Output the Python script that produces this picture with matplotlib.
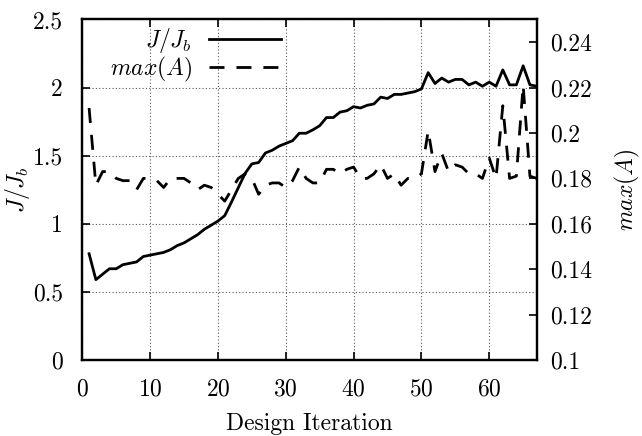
import matplotlib
matplotlib.use("Agg")
import matplotlib.pyplot as plt

plt.rcParams['font.family'] = ['cmr10', 'DejaVu Serif']
plt.rcParams['mathtext.fontset'] = 'cm'
plt.rcParams['axes.formatter.use_mathtext'] = True

iterations = list(range(1, 68))
j_ratio = [0.78, 0.59, 0.63, 0.67, 0.67, 0.70, 0.71, 0.72, 0.76, 0.77,
           0.78, 0.79, 0.81, 0.84, 0.86, 0.89, 0.92, 0.96, 0.99, 1.02,
           1.06, 1.16, 1.265, 1.37, 1.44, 1.45, 1.52, 1.54, 1.57, 1.59,
           1.61, 1.665, 1.665, 1.69, 1.72, 1.78, 1.78, 1.82, 1.83, 1.86,
           1.85, 1.87, 1.88, 1.93, 1.92, 1.95, 1.95, 1.96, 1.97, 1.99,
           2.11, 2.03, 2.07, 2.04, 2.06, 2.06, 2.02, 2.04, 2.01, 2.04,
           2.01, 2.13, 2.02, 2.02, 2.16, 2.02, 2.01]
max_a = [0.211, 0.177, 0.183, 0.183, 0.180, 0.179, 0.179, 0.175, 0.180, 0.180,
         0.179, 0.176, 0.180, 0.180, 0.180, 0.178, 0.175, 0.177, 0.176, 0.173,
         0.170, 0.175, 0.180, 0.182, 0.180, 0.173, 0.177, 0.178, 0.178, 0.176,
         0.179, 0.185, 0.180, 0.178, 0.178, 0.184, 0.184, 0.182, 0.184, 0.185,
         0.180, 0.180, 0.182, 0.186, 0.180, 0.182, 0.177, 0.180, 0.180, 0.182,
         0.201, 0.183, 0.191, 0.183, 0.186, 0.185, 0.182, 0.182, 0.180, 0.189,
         0.180, 0.212, 0.180, 0.181, 0.221, 0.181, 0.180]

x_ticks = [0, 10, 20, 30, 40, 50, 60]
y_ticks = [0, 0.5, 1, 1.5, 2, 2.5]
y_tick_labels = ['0', '0.5', '1', '1.5', '2', '2.5']
y2_ticks = [0.1, 0.12, 0.14, 0.16, 0.18, 0.2, 0.22, 0.24]
y2_tick_labels = ['0.1', '0.12', '0.14', '0.16', '0.18', '0.2', '0.22', '0.24']

FS = 17
fig = plt.figure(figsize=(6.42, 4.36), dpi=100)
ax = fig.add_axes([0.1282, 0.1743, 0.7078, 0.7810])
ax2 = ax.twinx()

l1, = ax.plot(iterations, j_ratio, color='black', lw=2.0, label=r'$J/J_b$')
l2, = ax2.plot(iterations, max_a, color='black', lw=2.0,
               linestyle=(0, (5.4, 4.3)), label=r'$max(A)$')

ax.set_xlim(0, 67)
ax.set_ylim(0, 2.5)
ax2.set_ylim(0.1, 0.25)

ax.set_xticks(x_ticks)
ax.set_yticks(y_ticks)
ax.set_yticklabels(y_tick_labels)
ax2.set_yticks(y2_ticks)
ax2.set_yticklabels(y2_tick_labels)

ax.tick_params(axis='x', direction='in', top=True, length=6, width=1.2,
               labelsize=FS, pad=13)
ax.tick_params(axis='y', direction='in', right=False, length=6, width=1.2,
               labelsize=FS, pad=14)
ax2.tick_params(axis='y', direction='in', length=6, width=1.2,
                labelsize=FS, pad=10)

ax.grid(True, linestyle=(0, (1, 2)), color='#555555', lw=0.8)

for a in (ax, ax2):
    for s in a.spines.values():
        s.set_linewidth(1.6)

ax.set_xlabel('Design Iteration', fontsize=FS, labelpad=9)
ax.set_ylabel(r'$J/J_b$', fontsize=FS)
ax.yaxis.set_label_coords(-0.111, 0.5)
ax2.set_ylabel(r'$max(A)$', fontsize=FS)
ax2.yaxis.set_label_coords(1.168, 0.5)

leg = ax2.legend(handles=[l1, l2], loc='upper right',
                 bbox_to_anchor=(0.448, 0.995), frameon=False, markerfirst=False,
                 fontsize=FS, handlelength=3.05, handletextpad=0.72,
                 labelspacing=0.0, borderaxespad=0.0, borderpad=0.2)

fig.savefig('out.png', dpi=100)
